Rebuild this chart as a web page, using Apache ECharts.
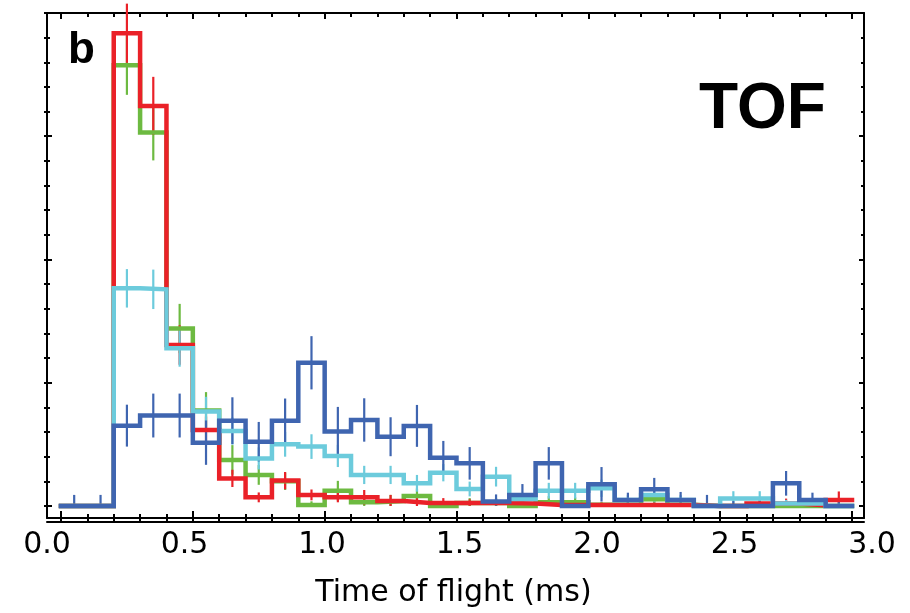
<!DOCTYPE html>
<html>
<head>
<meta charset="utf-8">
<script src="https://cdn.jsdelivr.net/npm/echarts@6/dist/echarts.min.js"></script>
<style>html,body{margin:0;padding:0;background:#fff;}#c{width:910px;height:613px;}</style>
</head>
<body>
<div id="c"></div>
<script>
// Bin edges (ms), 0.1 ms bins
const binEdges = [0,0.1,0.2,0.3,0.4,0.5,0.6,0.7,0.8,0.9,1.0,1.1,1.2,1.3,1.4,1.5,1.6,1.7,1.8,1.9,2.0,2.1,2.2,2.3,2.4,2.5,2.6,2.7,2.8,2.9,3.0];
// Histogram counts per bin (arbitrary units)
const redVals   = [0,0,19.18,16.23,6.53,3.08,1.12,0.35,1.03,0.45,0.35,0.35,0.2,0.12,0.12,0.12,0.12,0.1,0.04,0.04,0.04,0.04,0.04,0.04,0,0,0.1,0.1,0.03,0.24];
const greenVals = [0,0,17.88,15.15,7.2,3.87,1.87,1.26,1.0,0.04,0.62,0.15,0.2,0.41,0,0.12,0.12,0,0.15,0.15,0.05,0.05,0.27,0.05,0,0,0,0,0,0];
const cyanVals  = [0,0,8.83,8.79,6.4,3.83,3.04,1.93,2.5,2.41,2.03,1.26,1.26,0.92,1.35,0.69,1.19,0.28,0.62,0.62,0.72,0.24,0.45,0.24,0,0.3,0.3,0.1,0.1,0];
const blueVals  = [0,0,3.26,3.67,3.67,2.57,3.46,2.61,3.46,5.81,3.02,3.49,2.81,3.25,1.96,1.73,0.18,0.45,1.73,0,0.88,0.24,0.68,0.24,0,0,0,0.92,0.24,0];
// Error bar half-lengths
const redErr   = [0,0,1.2,1.18,0.8,0.55,0.35,0.2,0.35,0.22,0.2,0.3,0.25,0.2,0.2,0.15,0.15,0.15,0.1,0.1,0.1,0.1,0.1,0.1,0,0,0.2,0.2,0.1,0.35];
const greenErr = [0,0,1.2,1.13,1.0,0.75,0.6,0.4,0.35,0.15,0.4,0.25,0.25,0.3,0.1,0.2,0.2,0.1,0.25,0.2,0.1,0.1,0.25,0.1,0,0,0,0,0,0];
const cyanErr  = [0,0,0.78,0.8,0.75,0.6,0.55,0.45,0.5,0.5,0.45,0.37,0.37,0.34,0.35,0.3,0.4,0.2,0.32,0.32,0.35,0.2,0.3,0.2,0.1,0.3,0.3,0.15,0.1,0.1];
const blueErr  = [0.45,0.45,0.85,0.89,0.89,0.9,0.95,0.8,0.9,1.08,1.0,0.88,0.79,0.85,0.68,0.66,0.29,0.44,0.66,0.2,0.7,0.3,0.46,0.33,0.45,0.2,0.2,0.5,0.3,0.2];
// Ticks and labels
const xMinorTicks = binEdges;
const xMajorTicks = [0,0.5,1.0,1.5,2.0,2.5,3.0];
const xTickLabels = [0,0.5,1.0,1.5,2.0,2.5,3.0];
const yMinorTicks = [0,1,2,3,4,5,6,7,8,9,10,11,12,13,14,15,16,17,18,19,20];
const yMajorTicks = [0,5,10,15,20];
const xTitle = 'Time of flight (ms)';
const panelLabel = 'b';
const panelTitle = 'TOF';

const colors = {red:'#ea2128', green:'#6dba41', cyan:'#6ccbdc', blue:'#3f65b0'};

function stepData(vals){
  const d = vals.map((v,i)=>[binEdges[i], v]);
  d.push([binEdges[vals.length], vals[vals.length-1]]);
  return d;
}
function errData(vals, errs){
  return vals.map((v,i)=>[(binEdges[i]+binEdges[i+1])/2, v, errs[i]]);
}
function lineSeries(vals, color){
  return {type:'line', xAxisIndex:0, yAxisIndex:0, step:'end', showSymbol:false, symbol:'none',
    data: stepData(vals), lineStyle:{color:color, width:4.5, join:'miter', cap:'square'}, itemStyle:{color:color}, animation:false};
}
function errSeries(vals, errs, color){
  return {type:'custom', xAxisIndex:0, yAxisIndex:0, clip:false, data: errData(vals, errs),
    encode:{x:0,y:1},
    renderItem:function(params, api){
      const x = api.value(0), v = api.value(1), e = api.value(2);
      if (!(e > 0)) return null;
      const p1 = api.coord([x, Math.max(0, v - e)]);
      const p2 = api.coord([x, v + e]);
      return {type:'line', shape:{x1:p1[0], y1:p1[1], x2:p2[0], y2:p2[1]}, style:{stroke:color, lineWidth:2.2}};
    }, animation:false};
}

const xMin = -0.0531, xMax = 3.0455, yMin = -0.487, yMax = 20;
const black = '#000';
function xAx(extra){
  return Object.assign({type:'value', gridIndex:0, min:xMin, max:xMax, splitLine:{show:false},
    axisLabel:{show:false}, axisLine:{show:false, onZero:false}, axisTick:{show:false}}, extra);
}
function yAx(extra){
  return Object.assign({type:'value', gridIndex:0, min:yMin, max:yMax, splitLine:{show:false},
    axisLabel:{show:false}, axisLine:{show:false, onZero:false}, axisTick:{show:false}}, extra);
}

const chart = echarts.init(document.getElementById('c'), null, {renderer:'canvas'});
chart.setOption({
  animation:false,
  backgroundColor:'#fff',
  title:[
    {text:panelLabel, left:63, top:24, textStyle:{fontFamily:'Liberation Sans', fontWeight:'bold', fontSize:44, color:black}},
    {text:panelTitle, left:694, top:73, textStyle:{fontFamily:'Liberation Sans', fontWeight:'bold', fontSize:64, color:black}}
  ],
  grid:[
    {left:47, right:46, top:13, bottom:95},
    {left:47, width:825, top:13, bottom:95}
  ],
  xAxis:[
    xAx({position:'bottom', axisLine:{show:true, onZero:false, lineStyle:{color:black, width:2}},
      axisTick:{show:true, inside:true, length:4, customValues:xMinorTicks, lineStyle:{color:black, width:2}}}),
    xAx({position:'bottom', axisTick:{show:true, inside:true, length:7, customValues:xMajorTicks, lineStyle:{color:black, width:2}}}),
    xAx({position:'bottom', offset:4, axisLine:{show:true, onZero:false, lineStyle:{color:black, width:2}},
      axisTick:{show:true, inside:true, length:4, customValues:xMinorTicks, lineStyle:{color:black, width:2}}}),
    xAx({position:'top', axisLine:{show:true, onZero:false, lineStyle:{color:black, width:2}},
      axisTick:{show:true, inside:true, length:4, customValues:xMinorTicks, lineStyle:{color:black, width:2}}}),
    xAx({position:'top', axisTick:{show:true, inside:true, length:6, customValues:xMajorTicks, lineStyle:{color:black, width:2}}}),
    {type:'value', gridIndex:1, min:0, max:3, interval:0.5, position:'bottom', splitLine:{show:false},
      axisLine:{show:false}, axisTick:{show:false},
      axisLabel:{show:true, margin:15, customValues:xTickLabels, formatter:function(v){return v.toFixed(1);},
        fontFamily:'DejaVu Sans', fontSize:30, color:black},
      name:xTitle, nameLocation:'middle', nameGap:63,
      nameTextStyle:{fontFamily:'DejaVu Sans', fontSize:30, color:black, padding:[0,12,0,0]}}
  ],
  yAxis:[
    yAx({position:'left', axisLine:{show:true, onZero:false, lineStyle:{color:black, width:2}},
      axisTick:{show:true, inside:true, length:3, customValues:yMinorTicks, lineStyle:{color:black, width:2}}}),
    yAx({position:'left', axisTick:{show:true, inside:false, length:3, customValues:yMinorTicks, lineStyle:{color:black, width:2}}}),
    yAx({position:'left', axisTick:{show:true, inside:true, length:5, customValues:yMajorTicks, lineStyle:{color:black, width:2}}}),
    yAx({position:'right', axisLine:{show:true, onZero:false, lineStyle:{color:black, width:2}},
      axisTick:{show:true, inside:true, length:3, customValues:yMinorTicks, lineStyle:{color:black, width:2}}}),
    yAx({position:'right', axisTick:{show:true, inside:true, length:5, customValues:yMajorTicks, lineStyle:{color:black, width:2}}}),
    {type:'value', gridIndex:1, min:0, max:1, show:false}
  ],
  series:[
    lineSeries(greenVals, colors.green),
    errSeries(greenVals, greenErr, colors.green),
    lineSeries(redVals, colors.red),
    errSeries(redVals, redErr, colors.red),
    lineSeries(cyanVals, colors.cyan),
    errSeries(cyanVals, cyanErr, colors.cyan),
    lineSeries(blueVals, colors.blue),
    errSeries(blueVals, blueErr, colors.blue)
  ]
});
</script>
</body>
</html>
